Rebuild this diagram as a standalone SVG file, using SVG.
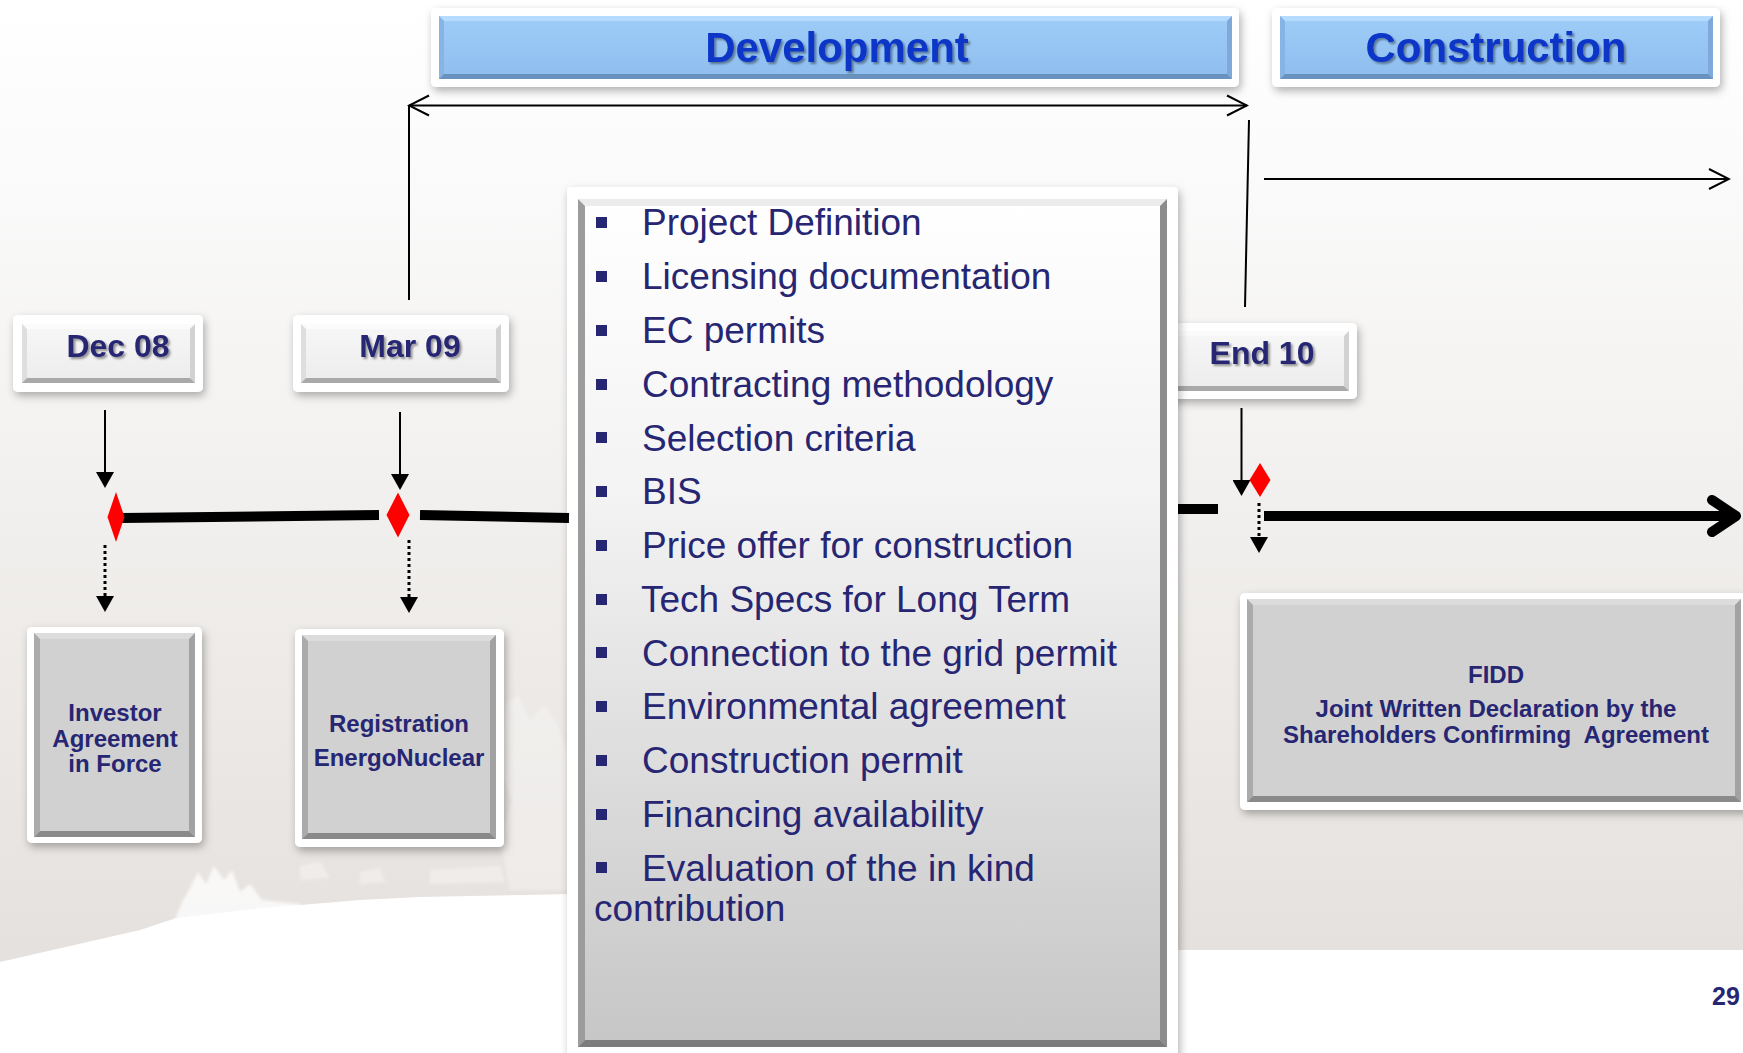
<svg xmlns="http://www.w3.org/2000/svg" width="1743" height="1053" viewBox="0 0 1743 1053">
<defs>
<style>
.f{font-family:"Liberation Sans",Arial,Helvetica,sans-serif}
.b{font-weight:bold}
.navy{fill:#262673}
.head{fill:#0836C8;font-size:42px;font-weight:bold;text-anchor:middle}
.date{font-size:32px;font-weight:bold;text-anchor:middle}
.box{font-size:24px;font-weight:bold;text-anchor:middle}
.item{font-size:37px}
.frame{fill:#ffffff}
.thin{stroke:#000;stroke-width:2;fill:none}
.thick{stroke:#000;stroke-width:10;fill:none}
.dot{stroke:#000;stroke-width:3;stroke-dasharray:3 3;fill:none}
.dia{fill:#ff0000}
.bl{fill:#262673}
</style>
<linearGradient id="bg" x1="0" y1="0" x2="0" y2="1">
<stop offset="0" stop-color="#ffffff"/>
<stop offset="0.15" stop-color="#fbfbfb"/>
<stop offset="0.5" stop-color="#f1efed"/>
<stop offset="0.9" stop-color="#e5e1de"/>
</linearGradient>
<linearGradient id="blue" x1="0" y1="0" x2="0" y2="1">
<stop offset="0" stop-color="#9fcdf8"/>
<stop offset="1" stop-color="#8ebdee"/>
</linearGradient>
<linearGradient id="date" x1="0" y1="0" x2="0" y2="1">
<stop offset="0" stop-color="#f7f7f7"/>
<stop offset="1" stop-color="#ececec"/>
</linearGradient>
<linearGradient id="dev" x1="0" y1="0" x2="0" y2="1">
<stop offset="0" stop-color="#ffffff"/>
<stop offset="0.35" stop-color="#f3f3f3"/>
<stop offset="1" stop-color="#c6c6c6"/>
</linearGradient>
<filter id="bs" x="-10%" y="-10%" width="125%" height="130%">
<feDropShadow dx="2" dy="4" stdDeviation="4" flood-color="#000" flood-opacity="0.3"/>
</filter>
<filter id="ts" x="-10%" y="-20%" width="125%" height="150%">
<feDropShadow dx="2" dy="2" stdDeviation="1.2" flood-color="#000" flood-opacity="0.4"/>
</filter>
<filter id="soft"><feGaussianBlur stdDeviation="1.5"/></filter>
<marker id="tri" viewBox="0 0 16 18" refX="6" refY="9" markerWidth="16" markerHeight="18" markerUnits="userSpaceOnUse" orient="auto">
<path d="M0,0 L16,9 L0,18 Z" fill="#000"/>
</marker>
<marker id="open" viewBox="-2 -12 24 24" refX="20" refY="0" markerWidth="24" markerHeight="24" markerUnits="userSpaceOnUse" orient="auto-start-reverse">
<path d="M0,-10 L20,0 L0,10" fill="none" stroke="#000" stroke-width="2"/>
</marker>
</defs>

<g id="background">
<rect x="0" y="0" width="1743" height="1053" fill="url(#bg)"/>
<path d="M505,705 L518,695 L530,720 L545,705 L560,730 L570,760 L570,890 L510,890 L500,840 L512,800 L500,770 Z" fill="#ffffff" opacity="0.3" filter="url(#soft)"/>
<path d="M176,917 L182,902 L190,888 L198,872 L206,884 L214,866 L224,880 L232,870 L240,892 L250,884 L262,900 L300,904 L300,930 L176,930 Z" fill="#ffffff" opacity="0.75" filter="url(#soft)"/>
<path d="M0,962 L140,930 L176,918 L262,908 L300,905 L360,900 L420,897 L570,894 L570,950 L1743,950 L1743,1053 L0,1053 Z" fill="#ffffff"/>
<path d="M300,866 L320,862 L330,878 L300,880 Z M360,872 L380,868 L385,882 L360,884 Z M430,870 L500,866 L505,882 L430,884 Z" fill="#ffffff" opacity="0.35" filter="url(#soft)"/>
</g>

<g id="phase-development">
<rect class="frame" x="431" y="8" width="808" height="79" rx="5" filter="url(#bs)"/>
<rect x="439" y="16" width="793" height="63" fill="url(#blue)"/>
<polygon points="439,16 1232,16 1227,21 444,21" fill="#b5dbff"/>
<polygon points="439,16 444,21 444,74 439,79" fill="#86b4e4"/>
<polygon points="1232,16 1232,79 1227,74 1227,21" fill="#7ea9d8"/>
<polygon points="439,79 444,74 1227,74 1232,79" fill="#6a92bf"/>
<text class="f head" x="837" y="62" filter="url(#ts)">Development</text>
</g>

<g id="phase-construction">
<rect class="frame" x="1272" y="8" width="448" height="79" rx="5" filter="url(#bs)"/>
<rect x="1280" y="16" width="433" height="63" fill="url(#blue)"/>
<polygon points="1280,16 1713,16 1708,21 1285,21" fill="#b5dbff"/>
<polygon points="1280,16 1285,21 1285,74 1280,79" fill="#86b4e4"/>
<polygon points="1713,16 1713,79 1708,74 1708,21" fill="#7ea9d8"/>
<polygon points="1280,79 1285,74 1708,74 1713,79" fill="#6a92bf"/>
<text class="f head" x="1496" y="62" textLength="261" lengthAdjust="spacingAndGlyphs" filter="url(#ts)">Construction</text>
</g>

<g id="date-dec08">
<rect class="frame" x="13" y="315" width="190" height="77" rx="5" filter="url(#bs)"/>
<rect x="22" y="324" width="173" height="59" fill="url(#date)"/>
<polygon points="22,324 195,324 190,329 27,329" fill="#fbfbfb"/>
<polygon points="22,324 27,329 27,378 22,383" fill="#dedede"/>
<polygon points="195,324 195,383 190,378 190,329" fill="#d2d2d2"/>
<polygon points="22,383 27,378 190,378 195,383" fill="#a9a9a9"/>
<text class="f date navy" x="118" y="357" filter="url(#ts)">Dec 08</text>
</g>

<g id="date-mar09">
<rect class="frame" x="293" y="315" width="216" height="77" rx="5" filter="url(#bs)"/>
<rect x="301" y="324" width="200" height="59" fill="url(#date)"/>
<polygon points="301,324 501,324 496,329 306,329" fill="#fbfbfb"/>
<polygon points="301,324 306,329 306,378 301,383" fill="#dedede"/>
<polygon points="501,324 501,383 496,378 496,329" fill="#d2d2d2"/>
<polygon points="301,383 306,378 496,378 501,383" fill="#a9a9a9"/>
<text class="f date navy" x="410" y="357" filter="url(#ts)">Mar 09</text>
</g>

<g id="date-end10">
<rect class="frame" x="1160" y="323" width="197" height="76" rx="5" filter="url(#bs)"/>
<rect x="1168" y="331" width="181" height="60" fill="url(#date)"/>
<polygon points="1168,331 1349,331 1344,336 1173,336" fill="#fbfbfb"/>
<polygon points="1349,331 1349,391 1344,386 1344,336" fill="#d2d2d2"/>
<polygon points="1168,391 1173,386 1344,386 1349,391" fill="#a9a9a9"/>
<text class="f date navy" x="1262" y="364" filter="url(#ts)">End 10</text>
</g>

<g id="dev-tasks">
<rect class="frame" x="567" y="187" width="611" height="880" rx="4" filter="url(#bs)"/>
<rect x="578" y="199" width="589" height="848" fill="url(#dev)"/>
<polygon points="578,199 1167,199 1160,206 585,206" fill="#ececec"/>
<polygon points="578,199 585,206 585,1040 578,1047" fill="#9c9c9c"/>
<polygon points="1167,199 1167,1047 1160,1040 1160,206" fill="#8c8c8c"/>
<polygon points="578,1047 585,1040 1160,1040 1167,1047" fill="#7c7c7c"/>
<g class="f item navy">
<rect class="bl" x="596" y="217" width="11" height="11"/><text x="642" y="235">Project Definition</text>
<rect class="bl" x="596" y="271" width="11" height="11"/><text x="642" y="289">Licensing documentation</text>
<rect class="bl" x="596" y="325" width="11" height="11"/><text x="642" y="343">EC permits</text>
<rect class="bl" x="596" y="379" width="11" height="11"/><text x="642" y="397">Contracting methodology</text>
<rect class="bl" x="596" y="432" width="11" height="11"/><text x="642" y="450.5">Selection criteria</text>
<rect class="bl" x="596" y="486" width="11" height="11"/><text x="642" y="504">BIS</text>
<rect class="bl" x="596" y="540" width="11" height="11"/><text x="642" y="558">Price offer for construction</text>
<rect class="bl" x="596" y="594" width="11" height="11"/><text x="641" y="611.5">Tech Specs for Long Term</text>
<rect class="bl" x="596" y="647" width="11" height="11"/><text x="642" y="665.5">Connection to the grid permit</text>
<rect class="bl" x="596" y="701" width="11" height="11"/><text x="642" y="719">Environmental agreement</text>
<rect class="bl" x="596" y="755" width="11" height="11"/><text x="642" y="773">Construction permit</text>
<rect class="bl" x="596" y="809" width="11" height="11"/><text x="642" y="827">Financing availability</text>
<rect class="bl" x="596" y="862" width="11" height="11"/><text x="642" y="880.5">Evaluation of the in kind</text>
<text x="594" y="920.5">contribution</text>
</g>
</g>

<g id="milestone-investor">
<rect class="frame" x="27" y="627" width="175" height="216" rx="5" filter="url(#bs)"/>
<rect x="34" y="633" width="161" height="204" fill="#d1d1d1"/>
<polygon points="34,633 195,633 189,639 40,639" fill="#dcdcdc"/>
<polygon points="34,633 40,639 40,831 34,837" fill="#ababab"/>
<polygon points="195,633 195,837 189,831 189,639" fill="#a2a2a2"/>
<polygon points="34,837 40,831 189,831 195,837" fill="#8a8a8a"/>
<text class="f box navy" x="115" y="721">Investor</text>
<text class="f box navy" x="115" y="747">Agreement</text>
<text class="f box navy" x="115" y="772">in Force</text>
</g>

<g id="milestone-registration">
<rect class="frame" x="295" y="629" width="209" height="218" rx="5" filter="url(#bs)"/>
<rect x="302" y="635" width="194" height="204" fill="#d1d1d1"/>
<polygon points="302,635 496,635 490,641 308,641" fill="#dcdcdc"/>
<polygon points="302,635 308,641 308,833 302,839" fill="#ababab"/>
<polygon points="496,635 496,839 490,833 490,641" fill="#a2a2a2"/>
<polygon points="302,839 308,833 490,833 496,839" fill="#8a8a8a"/>
<text class="f box navy" x="399" y="732">Registration</text>
<text class="f box navy" x="399" y="766">EnergoNuclear</text>
</g>

<g id="milestone-fidd">
<rect class="frame" x="1240" y="593" width="515" height="217" rx="5" filter="url(#bs)"/>
<rect x="1247" y="599" width="494" height="203" fill="#d1d1d1"/>
<polygon points="1247,599 1741,599 1735,605 1253,605" fill="#dcdcdc"/>
<polygon points="1247,599 1253,605 1253,796 1247,802" fill="#ababab"/>
<polygon points="1741,599 1741,802 1735,796 1735,605" fill="#a2a2a2"/>
<polygon points="1247,802 1253,796 1735,796 1741,802" fill="#8a8a8a"/>
<text class="f box navy" x="1496" y="683">FIDD</text>
<text class="f box navy" x="1496" y="717">Joint Written Declaration by the</text>
<text class="f box navy" x="1496" y="743" xml:space="preserve" style="white-space:pre">Shareholders Confirming  Agreement</text>
</g>

<g id="connectors">
<line class="thin" x1="409" y1="105.5" x2="1247" y2="105.5" marker-start="url(#open)" marker-end="url(#open)"/>
<line class="thin" x1="409" y1="105" x2="409" y2="300"/>
<line class="thin" x1="1249" y1="120" x2="1245" y2="307"/>
<line class="thin" x1="1264" y1="179" x2="1729" y2="179" marker-end="url(#open)"/>
<line class="thin" x1="105" y1="410" x2="105" y2="478" marker-end="url(#tri)"/>
<line class="thin" x1="400" y1="412" x2="400" y2="480" marker-end="url(#tri)"/>
<line class="thin" x1="1241.5" y1="408" x2="1241.5" y2="486" marker-end="url(#tri)"/>
<line class="dot" x1="105" y1="545" x2="105" y2="602" marker-end="url(#tri)"/>
<line class="dot" x1="409" y1="540" x2="409" y2="603" marker-end="url(#tri)"/>
<line class="dot" x1="1259" y1="503" x2="1259" y2="543" marker-end="url(#tri)"/>
<path class="thick" d="M122,518 L379,515"/>
<path class="thick" d="M420,515 L569,518"/>
<path class="thick" d="M1178,509 L1218,509"/>
<path class="thick" d="M1264,516 L1734,516"/>
<path class="thick" d="M1712,500 L1736,516 L1712,532" stroke-linecap="round" stroke-linejoin="round"/>
</g>

<g id="milestones">
<polygon class="dia" points="116,492 124.5,517 116,542 107.5,517"/>
<polygon class="dia" points="398,492.5 409.5,515 398,537.5 386.5,515"/>
<polygon class="dia" points="1260,463 1270.5,480 1260,497 1249.5,480"/>
</g>

<text class="f b navy" x="1712" y="1005" font-size="25">29</text>
</svg>
